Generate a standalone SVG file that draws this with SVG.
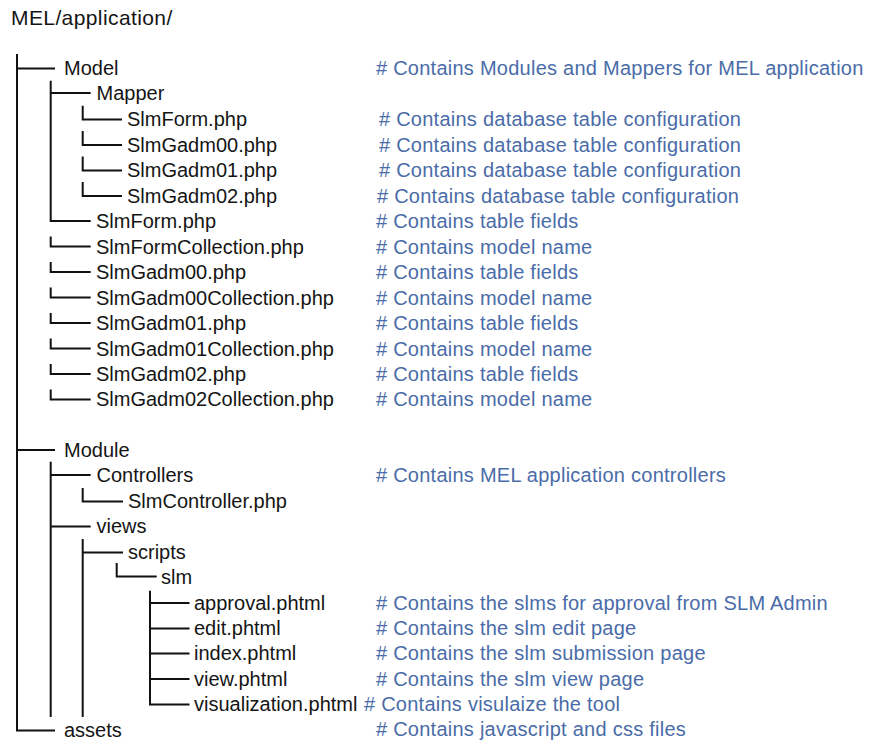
<svg xmlns="http://www.w3.org/2000/svg" width="886" height="742" viewBox="0 0 886 742">
<style>
.n{font-family:"Liberation Sans",Arial,sans-serif;font-size:20px;fill:#151515}
.c{font-family:"Liberation Sans",Arial,sans-serif;font-size:20px;fill:#4a6ca8;letter-spacing:0.25px}
.t{font-family:"Liberation Sans",Arial,sans-serif;font-size:21px;fill:#151515;letter-spacing:0.4px}
.l{fill:none;stroke:#111;stroke-width:2}
</style>
<rect width="886" height="742" fill="#fff"/>
<g id="connectors">
<path class="l" d="M17,54 V730.5 H55"/>
<path class="l" d="M17,68.5 H55"/>
<path class="l" d="M50.7,80.7 V221 H90.7"/>
<path class="l" d="M50.7,93 H90.7"/>
<path class="l" d="M82.7,105.7 V119.5 H122"/>
<path class="l" d="M82.7,131 V145 H122"/>
<path class="l" d="M82.7,156.5 V170.5 H122"/>
<path class="l" d="M82.7,182 V196 H122"/>
<path class="l" d="M50.7,236.5 V246.5 H90.7"/>
<path class="l" d="M50.7,262 V272 H90.7"/>
<path class="l" d="M50.7,287.5 V297.5 H90.7"/>
<path class="l" d="M50.7,313 V323 H90.7"/>
<path class="l" d="M50.7,338.5 V348.5 H90.7"/>
<path class="l" d="M50.7,364 V374 H90.7"/>
<path class="l" d="M50.7,389.5 V399.5 H90.7"/>
<path class="l" d="M17,450 H55"/>
<path class="l" d="M50.7,461.7 V717"/>
<path class="l" d="M50.7,475 H90.7"/>
<path class="l" d="M82.7,488 V501.5 H123"/>
<path class="l" d="M50.7,526.5 H90.7"/>
<path class="l" d="M82.7,539 V717"/>
<path class="l" d="M82.7,552.5 H123"/>
<path class="l" d="M116.7,563 V576.5 H156.7"/>
<path class="l" d="M150,590.7 V704.5 H189.5"/>
<path class="l" d="M150,603 H189.5"/>
<path class="l" d="M150,628.5 H189.5"/>
<path class="l" d="M150,653.5 H189.5"/>
<path class="l" d="M150,679 H189.5"/>
</g>
<g id="root"><text class="t" x="11" y="25">MEL/application/</text></g>
<g id="model"><text class="n" x="64" y="75">Model</text><text class="c" x="376" y="75"># Contains Modules and Mappers for MEL application</text></g>
<g id="mapper"><text class="n" x="96.5" y="100">Mapper</text></g>
<g id="mapper-slmform"><text class="n" x="127" y="126">SlmForm.php</text><text class="c" x="379" y="126"># Contains database table configuration</text></g>
<g id="mapper-slmgadm00"><text class="n" x="127" y="151.5">SlmGadm00.php</text><text class="c" x="379" y="151.5"># Contains database table configuration</text></g>
<g id="mapper-slmgadm01"><text class="n" x="127" y="177">SlmGadm01.php</text><text class="c" x="379" y="177"># Contains database table configuration</text></g>
<g id="mapper-slmgadm02"><text class="n" x="127" y="202.5">SlmGadm02.php</text><text class="c" x="377" y="202.5"># Contains database table configuration</text></g>
<g id="slmform"><text class="n" x="96" y="228">SlmForm.php</text><text class="c" x="376" y="228"># Contains table fields</text></g>
<g id="slmformcollection"><text class="n" x="96" y="253.5">SlmFormCollection.php</text><text class="c" x="376" y="253.5"># Contains model name</text></g>
<g id="slmgadm00"><text class="n" x="96" y="279">SlmGadm00.php</text><text class="c" x="376" y="279"># Contains table fields</text></g>
<g id="slmgadm00collection"><text class="n" x="96" y="304.5">SlmGadm00Collection.php</text><text class="c" x="376" y="304.5"># Contains model name</text></g>
<g id="slmgadm01"><text class="n" x="96" y="330">SlmGadm01.php</text><text class="c" x="376" y="330"># Contains table fields</text></g>
<g id="slmgadm01collection"><text class="n" x="96" y="355.5">SlmGadm01Collection.php</text><text class="c" x="376" y="355.5"># Contains model name</text></g>
<g id="slmgadm02"><text class="n" x="96" y="381">SlmGadm02.php</text><text class="c" x="376" y="381"># Contains table fields</text></g>
<g id="slmgadm02collection"><text class="n" x="96" y="406">SlmGadm02Collection.php</text><text class="c" x="376" y="406"># Contains model name</text></g>
<g id="module"><text class="n" x="64" y="457">Module</text></g>
<g id="controllers"><text class="n" x="96.5" y="482">Controllers</text><text class="c" x="376" y="482"># Contains MEL application controllers</text></g>
<g id="slmcontroller"><text class="n" x="128" y="508">SlmController.php</text></g>
<g id="views"><text class="n" x="96.5" y="533">views</text></g>
<g id="scripts"><text class="n" x="128" y="559">scripts</text></g>
<g id="slm"><text class="n" x="161" y="584">slm</text></g>
<g id="approval"><text class="n" x="194" y="609.5">approval.phtml</text><text class="c" x="376" y="609.5"># Contains the slms for approval from SLM Admin</text></g>
<g id="edit"><text class="n" x="194" y="635">edit.phtml</text><text class="c" x="376" y="635"># Contains the slm edit page</text></g>
<g id="index"><text class="n" x="194" y="660">index.phtml</text><text class="c" x="376" y="660"># Contains the slm submission page</text></g>
<g id="view"><text class="n" x="194" y="685.5">view.phtml</text><text class="c" x="376" y="685.5"># Contains the slm view page</text></g>
<g id="visualization"><text class="n" x="194" y="711">visualization.phtml</text><text class="c" x="364" y="711"># Contains visulaize the tool</text></g>
<g id="assets"><text class="n" x="64" y="737">assets</text><text class="c" x="376" y="736"># Contains javascript and css files</text></g>
</svg>
